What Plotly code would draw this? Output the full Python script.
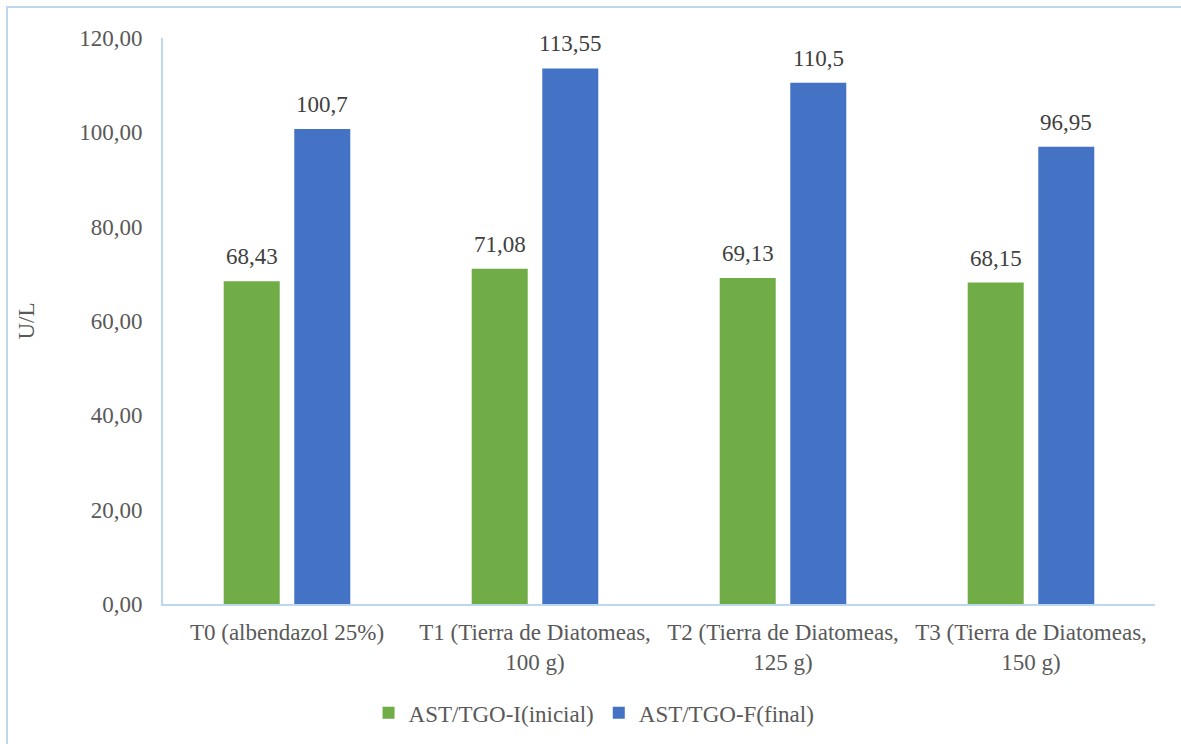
import plotly.graph_objects as go

# Treatment groups and AST/TGO values (U/L)
categorias = [
    "T0 (albendazol 25%)",
    "T1 (Tierra de Diatomeas,<br>100 g)",
    "T2 (Tierra de Diatomeas,<br>125 g)",
    "T3 (Tierra de Diatomeas,<br>150 g)",
]
ast_inicial = [68.43, 71.08, 69.13, 68.15]
ast_final = [100.7, 113.55, 110.5, 96.95]

serie_inicial = "AST/TGO-I(inicial)"
serie_final = "AST/TGO-F(final)"

y_ticks = [0, 20, 40, 60, 80, 100, 120]

FONT = "'Liberation Serif', 'Times New Roman', serif"
EJE = "#BDD7EE"
GRIS = "#595959"
TAM = 23


def etiqueta(v):
    return str(v).replace(".", ",")


fig = go.Figure()
fig.add_trace(go.Bar(
    x=categorias, y=ast_inicial, name=serie_inicial,
    marker=dict(color="#70AD47", line=dict(width=0)),
))
fig.add_trace(go.Bar(
    x=categorias, y=ast_final, name=serie_final,
    marker=dict(color="#4472C4", line=dict(width=0)),
))

# Value labels above each bar, shifted to the bar's slot in the group
for serie, desplaz in ((ast_inicial, -35), (ast_final, 35)):
    for cat, v in zip(categorias, serie):
        fig.add_annotation(
            x=cat, y=v, text=etiqueta(v), showarrow=False,
            xshift=desplaz, yshift=10, yanchor="bottom",
            font=dict(family=FONT, size=TAM, color="#404040"),
        )

# Outer frame around the whole chart
fig.add_shape(
    type="rect", xref="paper", yref="paper",
    x0=(7 - 163) / 992, x1=(1190 - 163) / 992,
    y0=(604 - 750) / 566, y1=(604 - 7) / 566,
    line=dict(color=EJE, width=2), fillcolor="rgba(0,0,0,0)", layer="below",
)

fig.update_layout(
    width=1181, height=744,
    margin=dict(l=163, r=26, t=38, b=140),
    paper_bgcolor="white", plot_bgcolor="white",
    font=dict(family=FONT, size=TAM, color=GRIS),
    barmode="group", bargap=0.431, bargroupgap=0.206,
    separators=",.",
    xaxis=dict(
        showline=True, linecolor=EJE, linewidth=2,
        showgrid=False, ticks="", ticklabelstandoff=6,
        tickfont=dict(family=FONT, size=TAM, color=GRIS),
        tickangle=0,
    ),
    yaxis=dict(
        range=[0, 120], tickvals=y_ticks, tickformat=".2f",
        showline=True, linecolor=EJE, linewidth=2,
        showgrid=False, zeroline=False, ticks="", ticklabelstandoff=14,
        tickfont=dict(family=FONT, size=TAM, color=GRIS),
        title=dict(text="U/L", font=dict(family=FONT, size=TAM, color=GRIS), standoff=38),
    ),
    showlegend=True,
    legend=dict(
        orientation="h", xref="container", yref="container",
        x=0.503, xanchor="center", y=0.042, yanchor="middle",
        font=dict(family=FONT, size=TAM, color=GRIS),
        itemwidth=30, traceorder="normal",
    ),
)

fig.write_html("out.html")
